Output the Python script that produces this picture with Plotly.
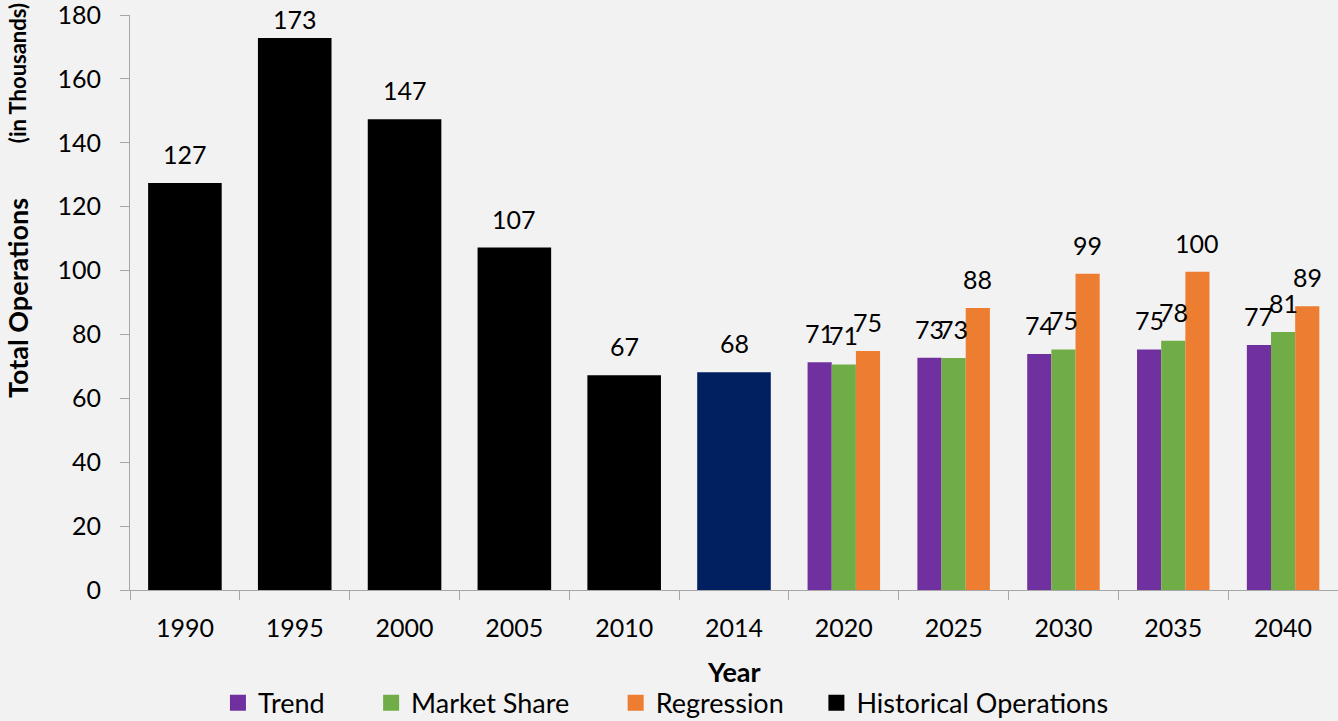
import plotly.graph_objects as go

# ---- data ----
all_years = ["1990", "1995", "2000", "2005", "2010", "2014", "2020", "2025", "2030", "2035", "2040"]
hist_years = ["1990", "1995", "2000", "2005", "2010", "2014"]
hist_values = [127.4, 172.8, 147.4, 107.2, 67.2, 68.2]
fc_years = ["2020", "2025", "2030", "2035", "2040"]
trend_values = [71.3, 72.7, 73.9, 75.3, 76.7]
market_values = [70.6, 72.6, 75.3, 78.0, 80.8]
regression_values = [74.8, 88.3, 99.0, 99.6, 88.8]
y_ticks = [0, 20, 40, 60, 80, 100, 120, 140, 160, 180]

FONT = "Lato"
C_TREND = "#7030A0"
C_MARKET = "#70AD47"
C_REG = "#ED7D31"
C_HIST = "#000000"
C_2014 = "#002060"
AXIS_C = "#A6A6A6"
BG = "#F2F2F2"
NB = "\u00a0"

W, H = 1338, 721
M_L, M_R, M_T, M_B = 130, 0, 15, 131
Y_MAX = 180
PX_PER_UNIT = (H - M_T - M_B) / Y_MAX


def label_shift(v):
    # keep labels inside the chart (as the original does near the top)
    top_px = M_T + (Y_MAX - v) * PX_PER_UNIT
    return max(0, min(12, top_px - 36))


hist_colors = [C_2014 if y == "2014" else C_HIST for y in hist_years]

W_FC = 0.22
W_H = 0.67
series = [
    ("Trend", trend_values, C_TREND, -1.5 * W_FC, 6),
    ("Market Share", market_values, C_MARKET, -0.5 * W_FC, 6),
    ("Regression", regression_values, C_REG, 0.5 * W_FC, 4),
]

fig = go.Figure()
for name, vals, col, off, _ in series:
    fig.add_trace(go.Bar(
        x=fc_years, y=vals, name=name, marker=dict(color=col, line=dict(width=0)),
        width=W_FC, offset=off, showlegend=False,
    ))
fig.add_trace(go.Bar(
    x=hist_years, y=hist_values, name="Historical Operations",
    marker=dict(color=hist_colors, line=dict(width=0)),
    width=W_H, offset=-W_H / 2, showlegend=False,
))

# legend entries (square keys)
legend_items = [(n, c, pad) for n, _, c, _, pad in series] + [("Historical Operations", C_HIST, 0)]
for name, col, pad in legend_items:
    fig.add_trace(go.Scatter(
        x=[None], y=[None], mode="markers", name=name + NB * pad,
        marker=dict(symbol="square", size=16, color=col), hoverinfo="skip",
    ))

# data labels
ann = []
LBL_FONT = dict(family=FONT, size=25, color="#000000")
for yr, v in zip(hist_years, hist_values):
    ann.append(dict(x=all_years.index(yr), y=v, xref="x", yref="y", text=f"{round(v)}",
                    showarrow=False, yanchor="bottom", yshift=label_shift(v), font=LBL_FONT))
for name, vals, col, off, _ in series:
    for yr, v in zip(fc_years, vals):
        ann.append(dict(x=all_years.index(yr) + off + W_FC / 2, y=v, xref="x", yref="y",
                        text=f"{round(v)}", showarrow=False, yanchor="bottom",
                        yshift=label_shift(v), font=LBL_FONT))

# axis titles
ann.append(dict(x=0.5, y=-0.1426, xref="paper", yref="paper", text="<b>Year</b>",
                showarrow=False, xanchor="center", yanchor="middle",
                font=dict(family=FONT, size=27, color="#000000")))
ann.append(dict(x=-0.0927, y=0.508, xref="paper", yref="paper", text="<b>Total Operations</b>",
                showarrow=False, xanchor="center", yanchor="middle", textangle=-90,
                font=dict(family=FONT, size=27, color="#000000")))
ann.append(dict(x=-0.0935, y=0.899, xref="paper", yref="paper", text="<b>(in Thousands)</b>",
                showarrow=False, xanchor="center", yanchor="middle", textangle=-90,
                font=dict(family=FONT, size=22, color="#000000")))

fig.update_layout(
    width=W, height=H,
    margin=dict(l=M_L, r=M_R, t=M_T, b=M_B, autoexpand=False),
    paper_bgcolor=BG, plot_bgcolor=BG,
    barmode="overlay",
    font=dict(family=FONT, size=25, color="#000000"),
    showlegend=True,
    legend=dict(orientation="h", x=0.0728, xanchor="left", y=-0.197, yanchor="middle",
                font=dict(family=FONT, size=27, color="#000000"),
                bgcolor="rgba(0,0,0,0)", itemsizing="trace"),
    annotations=ann,
    xaxis=dict(type="category", categoryorder="array", categoryarray=all_years,
               range=[-0.5, len(all_years) - 0.5], tickson="boundaries",
               ticks="outside", ticklen=9, tickcolor=AXIS_C, showline=True,
               linecolor=AXIS_C, linewidth=1, showgrid=False, zeroline=False,
               tickfont=dict(family=FONT, size=25), ticklabelstandoff=16, automargin=False),
    yaxis=dict(range=[0, Y_MAX], tickvals=y_ticks, ticks="outside", ticklen=9, tickcolor=AXIS_C,
               showline=True, linecolor=AXIS_C, linewidth=1, showgrid=False,
               zeroline=False, tickfont=dict(family=FONT, size=25), ticklabelstandoff=14,
               ticklabeloverflow="allow", automargin=False),
)

fig.write_html(
    "out.html",
    config={"displayModeBar": False},
    post_script=(
        "document.body.style.margin='0';"
        "document.body.style.overflow='hidden';"
        f"document.body.style.background='{BG}';"
    ),
)
